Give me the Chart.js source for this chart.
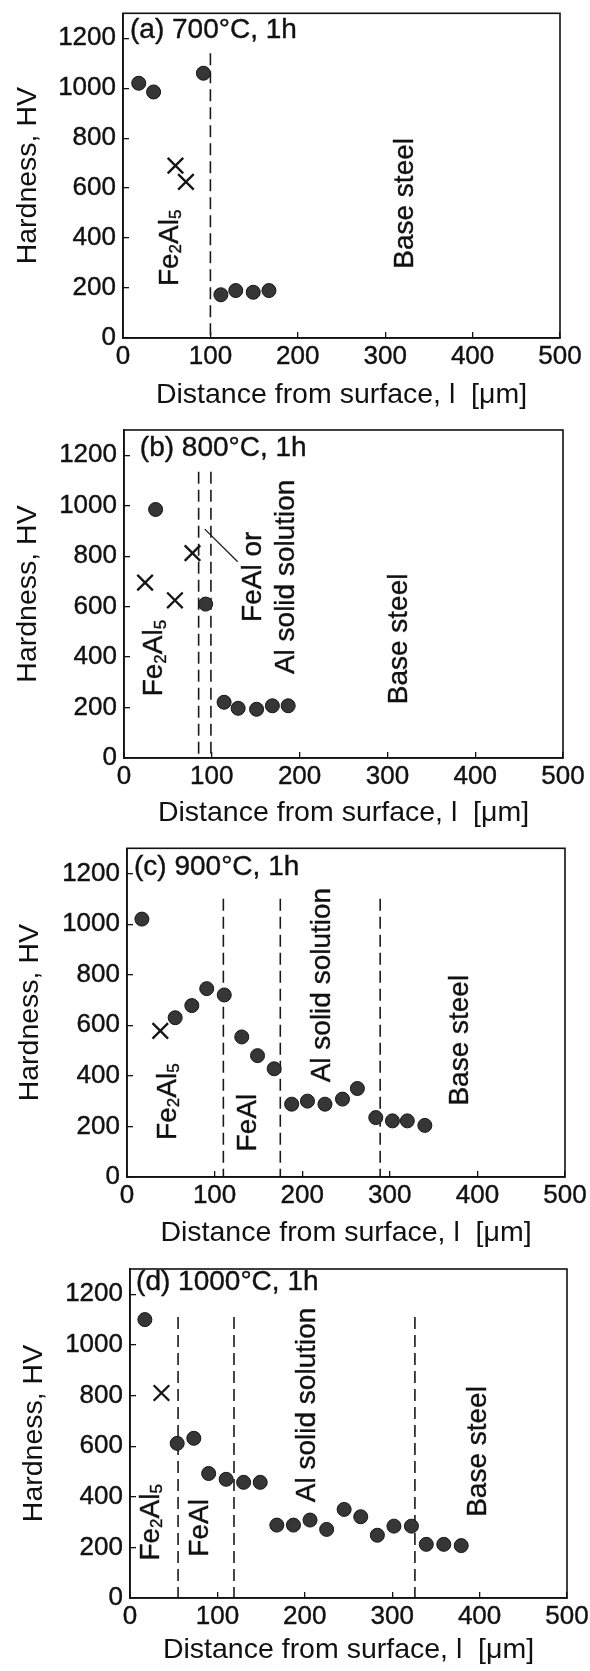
<!DOCTYPE html>
<html>
<head>
<meta charset="utf-8">
<script src="https://cdn.jsdelivr.net/npm/chart.js@4.4.1/dist/chart.umd.min.js"></script>
<style>
  html, body { margin: 0; padding: 0; background: #fff; }
  #page { position: relative; width: 590px; height: 1671px; background: #fff; overflow: hidden; }
  #page canvas { position: absolute; left: 0; }
</style>
</head>
<body>
<div id="page">
  <canvas id="c700" width="590" height="415" style="top:0px;width:590px;height:415px"></canvas>
  <canvas id="c800" width="590" height="420" style="top:415px;width:590px;height:420px"></canvas>
  <canvas id="c900" width="590" height="420" style="top:835px;width:590px;height:420px"></canvas>
  <canvas id="c1000" width="590" height="416" style="top:1255px;width:590px;height:416px"></canvas>
</div>
<script>
// Hardness profiles across the aluminized layer for four treatment temperatures (1 h each)
const distanceTicks = [0, 100, 200, 300, 400, 500];
const hardnessTicks = [0, 200, 400, 600, 800, 1000, 1200];

// (a) 700 °C
const dist700 = [18, 35, 92, 112, 129, 149, 167];
const hv700 = [1020, 985, 1060, 173, 190, 183, 190];
const crossDist700 = [60, 72];
const crossHv700 = [690, 625];
const bounds700 = [100];
const boundTop700 = 1140;

// (b) 800 °C
const dist800 = [36, 93, 114, 130, 151, 169, 187];
const hv800 = [985, 610, 221, 197, 193, 207, 207];
const crossDist800 = [24, 58, 78];
const crossHv800 = [695, 625, 812];
const bounds800 = [85, 99];
const boundTop800 = 1135;
const leaderDist800 = [92, 129.5];
const leaderHv800 = [907, 778];

// (c) 900 °C
const dist900 = [17, 55, 74, 91, 111, 131, 149, 168, 188, 206, 226, 246, 263, 284, 303, 320, 340];
const hv900 = [1020, 630, 678, 745, 720, 554, 480, 428, 288, 300, 288, 308, 350, 235, 222, 222, 204];
const crossDist900 = [38];
const crossHv900 = [578];
const bounds900 = [110, 175, 289];
const boundTop900 = 1100;

// (d) 1000 °C
const dist1000 = [17, 54, 73, 90, 110, 130, 149, 168, 187, 206, 225, 245, 264, 283, 302, 322, 339, 359, 379];
const hv1000 = [1100, 611, 631, 492, 469, 457, 457, 288, 288, 308, 271, 350, 321, 248, 284, 284, 212, 212, 207];
const crossDist1000 = [36];
const crossHv1000 = [810];
const bounds1000 = [55, 119, 326];
const boundTop1000 = 1110;

const FONT = '"Liberation Sans", Arial, Helvetica, sans-serif';
const INK = '#111';

// Text with "_d" marking a subscript digit, e.g. Fe_2Al_5
function drawRich(ctx, text, align, size) {
  const parts = [];
  const re = /_(\d)/g;
  let last = 0, m;
  while ((m = re.exec(text)) !== null) {
    if (m.index > last) parts.push({ t: text.slice(last, m.index), sub: false });
    parts.push({ t: m[1], sub: true });
    last = re.lastIndex;
  }
  if (last < text.length) parts.push({ t: text.slice(last), sub: false });
  const subSize = Math.round(size * 0.62);
  let total = 0;
  parts.forEach(p => {
    ctx.font = `${p.sub ? subSize : size}px ${FONT}`;
    p.w = ctx.measureText(p.t).width;
    total += p.w;
  });
  let cx = align === 'left' ? 0 : -total / 2;
  ctx.textBaseline = 'middle';
  ctx.textAlign = 'left';
  ctx.fillStyle = INK;
  ctx.strokeStyle = INK;
  ctx.lineWidth = 0.4;
  parts.forEach(p => {
    ctx.font = `${p.sub ? subSize : size}px ${FONT}`;
    const dy = p.sub ? size * 0.22 : 0;
    ctx.fillText(p.t, cx, dy);
    ctx.strokeText(p.t, cx, dy);
    cx += p.w;
  });
}

// Phase names and panel headings placed in data units
const phaseText = {
  id: 'phaseText',
  afterDatasetsDraw(chart, args, opts) {
    const { ctx } = chart;
    const xs = chart.scales.x, ys = chart.scales.y;
    (opts.items || []).forEach(item => {
      ctx.save();
      ctx.translate(xs.getPixelForValue(item.x), ys.getPixelForValue(item.y));
      if (item.vertical) ctx.rotate(-Math.PI / 2);
      drawRich(ctx, item.text, item.align || 'center', opts.size);
      ctx.restore();
    });
  }
};

// Closed frame round the plot area
const frameBox = {
  id: 'frameBox',
  afterDraw(chart) {
    const { ctx, chartArea: a } = chart;
    ctx.save();
    ctx.strokeStyle = INK;
    ctx.lineWidth = 1.6;
    ctx.strokeRect(a.left, a.top, a.right - a.left, a.bottom - a.top);
    ctx.restore();
  }
};

function pairs(xs, ys) { return xs.map((v, i) => ({ x: v, y: ys[i] })); }

function makePanel(id, p) {
  const datasets = [];
  p.bounds.forEach(b => {
    datasets.push({
      type: 'line', data: [{ x: b, y: p.boundTop }, { x: b, y: 0 }],
      borderColor: '#1a1a1a', borderWidth: 1.6, borderDash: [12, 6],
      pointRadius: 0, fill: false, order: 3
    });
  });
  if (p.leader) {
    datasets.push({
      type: 'line', data: pairs(p.leader[0], p.leader[1]),
      borderColor: '#1a1a1a', borderWidth: 1.3, pointRadius: 0, fill: false, order: 3
    });
  }
  datasets.push({
    data: pairs(p.crossDist, p.crossHv), pointStyle: 'crossRot', pointRadius: 11,
    borderColor: '#151515', backgroundColor: '#151515', borderWidth: 2.3, order: 1
  });
  datasets.push({
    data: pairs(p.dist, p.hv), pointStyle: 'circle', pointRadius: 7,
    backgroundColor: '#363636', borderColor: '#151515', borderWidth: 1, order: 2
  });

  const tickFont = { family: FONT, size: 26 };
  return new Chart(document.getElementById(id), {
    type: 'scatter',
    data: { datasets },
    plugins: [phaseText, frameBox],
    options: {
      responsive: false,
      animation: false,
      events: [],
      layout: { padding: { top: p.padTop, right: p.padRight, bottom: 0, left: 0 } },
      plugins: {
        legend: { display: false },
        tooltip: { enabled: false },
        phaseText: { items: p.labels, size: 28 }
      },
      scales: {
        x: {
          type: 'linear', min: 0, max: 500,
          afterBuildTicks: s => { s.ticks = distanceTicks.map(v => ({ value: v })); },
          afterFit: s => { s.height = p.xAxisH; s.paddingLeft = 0; s.paddingRight = 0; },
          ticks: {
            font: tickFont, color: INK, padding: 9, autoSkip: false, maxRotation: 0,
            textStrokeColor: INK, textStrokeWidth: 0.4,
            callback: v => String(v)
          },
          grid: { display: true, drawOnChartArea: false, drawTicks: true, tickLength: -6, color: INK, lineWidth: 1.3 },
          border: { display: true, color: INK, width: 1.6 },
          title: {
            display: true, text: 'Distance from surface, l  [\u03bcm]', color: INK,
            font: { family: FONT, size: 28.5 }, padding: { top: 0, bottom: p.titlePadX }
          }
        },
        y: {
          type: 'linear', min: 0, max: 1300,
          afterBuildTicks: s => { s.ticks = hardnessTicks.map(v => ({ value: v })); },
          afterFit: s => { s.width = p.plotLeft; s.paddingTop = 0; s.paddingBottom = 0; },
          ticks: {
            font: tickFont, color: INK, padding: 13, autoSkip: false,
            textStrokeColor: INK, textStrokeWidth: 0.4,
            callback: v => String(v)
          },
          grid: { display: true, drawOnChartArea: false, drawTicks: true, tickLength: -6, color: INK, lineWidth: 1.3 },
          border: { display: true, color: INK, width: 1.6 },
          title: {
            display: true, text: 'Hardness, HV', color: INK,
            font: { family: FONT, size: 28.5 }, padding: { top: p.titlePadY, bottom: 0 }
          }
        }
      }
    }
  });
}

makePanel('c700', {
  dist: dist700, hv: hv700, crossDist: crossDist700, crossHv: crossHv700,
  bounds: bounds700, boundTop: boundTop700,
  plotLeft: 123, padTop: 9, padRight: 30, xAxisH: 77, titlePadX: 3, titlePadY: 11,
  labels: [
    { text: '(a) 700\u00b0C, 1h', x: 8, y: 1233, align: 'left' },
    { text: 'Fe_2Al_5', x: 54, y: 361, vertical: true },
    { text: 'Base steel', x: 323, y: 539, vertical: true }
  ]
});

makePanel('c800', {
  dist: dist800, hv: hv800, crossDist: crossDist800, crossHv: crossHv800,
  bounds: bounds800, boundTop: boundTop800, leader: [leaderDist800, leaderHv800],
  plotLeft: 124, padTop: 15, padRight: 27, xAxisH: 77, titlePadX: 5, titlePadY: 11,
  labels: [
    { text: '(b) 800\u00b0C, 1h', x: 18, y: 1228, align: 'left' },
    { text: 'Fe_2Al_5', x: 35, y: 396, vertical: true },
    { text: 'FeAl or', x: 147, y: 718, vertical: true },
    { text: 'Al solid solution', x: 185, y: 718, vertical: true },
    { text: 'Base steel', x: 314, y: 472, vertical: true }
  ]
});

makePanel('c900', {
  dist: dist900, hv: hv900, crossDist: crossDist900, crossHv: crossHv900,
  bounds: bounds900, boundTop: boundTop900,
  plotLeft: 127, padTop: 13, padRight: 25, xAxisH: 78, titlePadX: 5, titlePadY: 13,
  labels: [
    { text: '(c) 900\u00b0C, 1h', x: 8, y: 1226, align: 'left' },
    { text: 'Fe_2Al_5', x: 47, y: 298, vertical: true },
    { text: 'FeAl', x: 139, y: 215, vertical: true },
    { text: 'Al solid solution', x: 223, y: 759, vertical: true },
    { text: 'Base steel', x: 381, y: 541, vertical: true }
  ]
});

makePanel('c1000', {
  dist: dist1000, hv: hv1000, crossDist: crossDist1000, crossHv: crossHv1000,
  bounds: bounds1000, boundTop: boundTop1000,
  plotLeft: 130, padTop: 14, padRight: 23, xAxisH: 73, titlePadX: 4, titlePadY: 17,
  labels: [
    { text: '(d) 1000\u00b0C, 1h', x: 7, y: 1246, align: 'left' },
    { text: 'Fe_2Al_5', x: 24, y: 299, vertical: true },
    { text: 'FeAl', x: 80, y: 277, vertical: true },
    { text: 'Al solid solution', x: 203, y: 763, vertical: true },
    { text: 'Base steel', x: 399, y: 579, vertical: true }
  ]
});
</script>
</body>
</html>
